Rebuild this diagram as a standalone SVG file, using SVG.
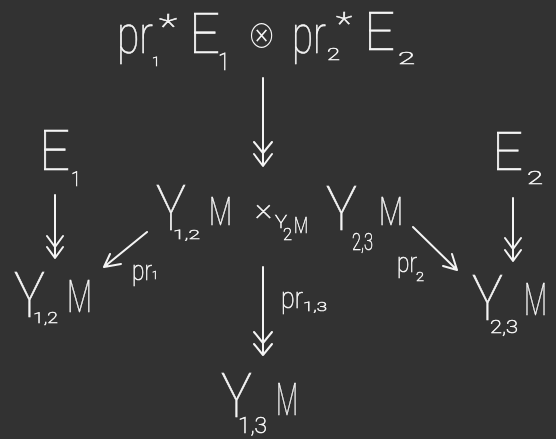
<svg xmlns="http://www.w3.org/2000/svg" width="556" height="439" viewBox="0 0 556 439">
<style>
.t{font-family:Roboto,Lato,"DejaVu Sans",sans-serif;font-weight:100;fill:#f4f4f4;stroke:#f4f4f4;stroke-width:0.6}
.c{stroke:#f4f4f4;stroke-width:2;fill:none;stroke-linecap:round;stroke-linejoin:round}
</style>
<defs>
<filter id="gray" x="0" y="0" width="556" height="439" filterUnits="userSpaceOnUse"><feOffset dx="0" dy="0"/></filter>
</defs>
<rect width="556" height="439" fill="#323232"/>
<g filter="url(#gray)">
<g id="n-top">
<text class="t" x="117" y="53" font-size="51" textLength="36" lengthAdjust="spacingAndGlyphs">pr</text>
<text class="t" x="152" y="66" font-size="12" textLength="8" lengthAdjust="spacingAndGlyphs">1</text>
<text class="t" x="159" y="38" font-size="34" textLength="18" lengthAdjust="spacingAndGlyphs">*</text>
<text class="t" x="189" y="53" font-size="56" textLength="31" lengthAdjust="spacingAndGlyphs">E</text>
<text class="t" x="218" y="70" font-size="24" textLength="12" lengthAdjust="spacingAndGlyphs">1</text>
<text x="247" y="48" font-size="40" textLength="29" lengthAdjust="spacingAndGlyphs" style="font-family:'DejaVu Sans',sans-serif;fill:#f4f4f4;stroke:#323232;stroke-width:1.6">⊗</text>
<text class="t" x="292" y="53" font-size="51" textLength="34" lengthAdjust="spacingAndGlyphs">pr</text>
<text class="t" x="327" y="60" font-size="17" textLength="13" lengthAdjust="spacingAndGlyphs">2</text>
<text class="t" x="336" y="34" font-size="32" textLength="16" lengthAdjust="spacingAndGlyphs">*</text>
<text class="t" x="364" y="50" font-size="54" textLength="31" lengthAdjust="spacingAndGlyphs">E</text>
<text class="t" x="398" y="64" font-size="16" textLength="17" lengthAdjust="spacingAndGlyphs">2</text>
</g>
<g id="n-E1">
<text class="t" x="39" y="170" font-size="56" textLength="31" lengthAdjust="spacingAndGlyphs">E</text>
<text class="t" x="71" y="186" font-size="21" textLength="10" lengthAdjust="spacingAndGlyphs">1</text>
</g>
<g id="n-E2">
<text class="t" x="492" y="170" font-size="54" textLength="31" lengthAdjust="spacingAndGlyphs">E</text>
<text class="t" x="527" y="184" font-size="18" textLength="16" lengthAdjust="spacingAndGlyphs">2</text>
</g>
<g id="n-fib">
<text class="t" x="156" y="230" font-size="63" textLength="30" lengthAdjust="spacingAndGlyphs">Y</text>
<text class="t" x="173" y="239" font-size="13" textLength="27" lengthAdjust="spacingAndGlyphs">1,2</text>
<text class="t" x="209" y="225" font-size="38" textLength="23" lengthAdjust="spacingAndGlyphs">M</text>
<text class="t" x="255" y="218" font-size="32" textLength="17" lengthAdjust="spacingAndGlyphs">×</text>
<text class="t" x="275" y="228" font-size="18" textLength="12" lengthAdjust="spacingAndGlyphs">Y</text>
<text class="t" x="283" y="240" font-size="16" textLength="9" lengthAdjust="spacingAndGlyphs">2</text>
<text class="t" x="294" y="233" font-size="22" textLength="14" lengthAdjust="spacingAndGlyphs">M</text>
<text class="t" x="326" y="230" font-size="61" textLength="31" lengthAdjust="spacingAndGlyphs">Y</text>
<text class="t" x="352" y="250" font-size="23" textLength="21" lengthAdjust="spacingAndGlyphs">2,3</text>
<text class="t" x="379" y="225" font-size="38" textLength="24" lengthAdjust="spacingAndGlyphs">M</text>
</g>
<g id="n-Y12">
<text class="t" x="14" y="317" font-size="63" textLength="31" lengthAdjust="spacingAndGlyphs">Y</text>
<text class="t" x="33" y="323" font-size="15" textLength="25" lengthAdjust="spacingAndGlyphs">1,2</text>
<text class="t" x="67" y="312" font-size="45" textLength="25" lengthAdjust="spacingAndGlyphs">M</text>
</g>
<g id="n-Y23">
<text class="t" x="472" y="320" font-size="63" textLength="31" lengthAdjust="spacingAndGlyphs">Y</text>
<text class="t" x="490" y="333" font-size="18" textLength="28" lengthAdjust="spacingAndGlyphs">2,3</text>
<text class="t" x="524" y="315" font-size="45" textLength="23" lengthAdjust="spacingAndGlyphs">M</text>
</g>
<g id="n-Y13">
<text class="t" x="221" y="417" font-size="62" textLength="31" lengthAdjust="spacingAndGlyphs">Y</text>
<text class="t" x="238" y="433" font-size="22" textLength="29" lengthAdjust="spacingAndGlyphs">1,3</text>
<text class="t" x="276" y="415" font-size="45" textLength="22" lengthAdjust="spacingAndGlyphs">M</text>
</g>
<g id="connectors">
<path class="c" d="M263,78 L263,165 M254,142 L263,153 L272,142 M254,154 L263,166 L272,154"/>
<path class="c" d="M55,195 L55,258 M47,236 L55,247 L63,236 M47,247 L55,258 L63,247"/>
<path class="c" d="M513,198 L513,261 M505,238 L513,249 L521,238 M505,250 L513,261 L521,250"/>
<path class="c" d="M263,267 L263,355 M254,332 L263,343 L272,332 M254,344 L263,355 L272,344"/>
<path class="c" d="M147,232 L104,267 M110,254 L104,267 L121,264"/>
<path class="c" d="M413,227 L457,270 M443,266 L457,270 L452,254"/>
<g id="labels">
<text class="t" x="132" y="280" font-size="28" textLength="20" lengthAdjust="spacingAndGlyphs">pr</text>
<text class="t" x="152" y="279" font-size="10" textLength="6" lengthAdjust="spacingAndGlyphs">1</text>
<text class="t" x="397" y="272" font-size="28" textLength="20" lengthAdjust="spacingAndGlyphs">pr</text>
<text class="t" x="416" y="281" font-size="12" textLength="8" lengthAdjust="spacingAndGlyphs">2</text>
<text class="t" x="281" y="308" font-size="30" textLength="22" lengthAdjust="spacingAndGlyphs">pr</text>
<text class="t" x="303" y="311" font-size="12" textLength="24" lengthAdjust="spacingAndGlyphs">1,3</text>
</g>
</g>
</g>
</svg>
